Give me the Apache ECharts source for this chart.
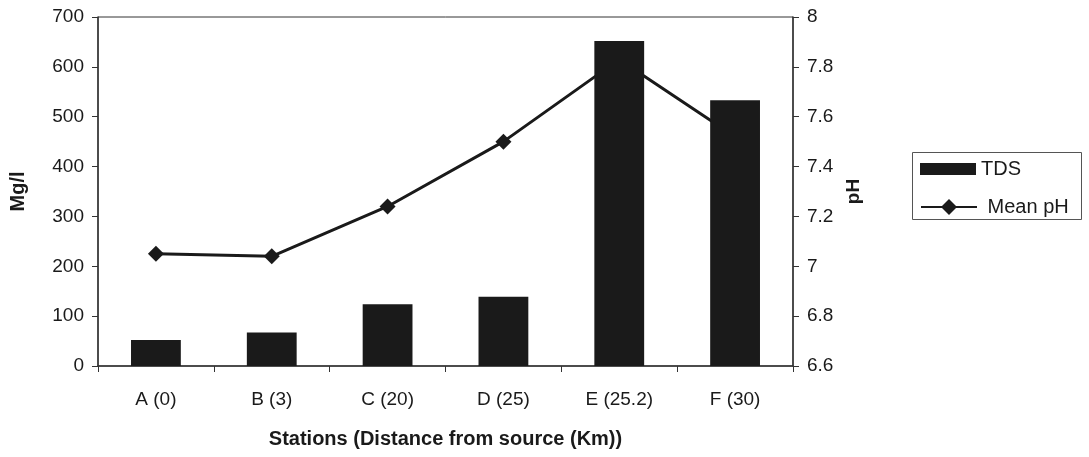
<!DOCTYPE html>
<html>
<head>
<meta charset="utf-8">
<script src="https://cdn.jsdelivr.net/npm/echarts@6/dist/echarts.min.js"></script>
<style>html,body{margin:0;padding:0;background:#fff;}#c{width:1089px;height:457px;}</style>
</head>
<body>
<div id="c"></div>
<script>
const categories = ['A (0)', 'B (3)', 'C (20)', 'D (25)', 'E (25.2)', 'F (30)'];
const tds = [52, 67, 124, 139, 652, 533];
const meanPH = [7.05, 7.04, 7.24, 7.50, 7.83, 7.52];
const leftTicks = { min: 0, max: 700, interval: 100 };
const rightTicks = { min: 6.6, max: 8.0, interval: 0.2 };

const FONT = '"Liberation Sans", Arial, sans-serif';
const INK = '#1a1a1a';

const legendText = { fontSize: 20, color: INK, fontFamily: FONT };

const chart = echarts.init(document.getElementById('c'), null, { renderer: 'canvas' });
chart.setOption({
  backgroundColor: '#ffffff',
  animation: false,
  textStyle: { fontFamily: FONT, color: INK },
  grid: { left: 97, right: 296, top: 17, bottom: 91, show: true, borderColor: '#333', borderWidth: 1, backgroundColor: 'transparent' },
  graphic: [{
    type: 'rect', left: 912, top: 152,
    shape: { width: 169, height: 67 },
    style: { fill: 'transparent', stroke: '#555', lineWidth: 1 },
    silent: true
  }],
  legend: [
    {
      orient: 'vertical', left: 920, top: 159, padding: 0,
      itemWidth: 56, itemHeight: 12,
      textStyle: legendText,
      data: [{ name: 'TDS', icon: 'rect' }]
    },
    {
      orient: 'vertical', left: 920, top: 197, padding: 0,
      itemWidth: 56, itemHeight: 20,
      textStyle: legendText,
      formatter: name => ' ' + name,
      data: [{ name: 'Mean pH' }]
    }
  ],
  xAxis: {
    type: 'category', data: categories, boundaryGap: true,
    axisLine: { lineStyle: { color: '#333', width: 1.5 } },
    axisTick: { show: true, length: 6, lineStyle: { color: '#333' } },
    axisLabel: { fontSize: 19, color: INK, margin: 24, fontFamily: FONT },
    name: 'Stations (Distance from source (Km))', nameLocation: 'middle', nameGap: 63,
    nameTextStyle: { fontSize: 20, fontWeight: 'bold', color: INK, fontFamily: FONT }
  },
  yAxis: [
    {
      type: 'value', min: leftTicks.min, max: leftTicks.max, interval: leftTicks.interval,
      axisLine: { show: true, lineStyle: { color: '#333', width: 1.5 } },
      axisTick: { show: true, length: 6, lineStyle: { color: '#333' } },
      splitLine: { show: false },
      axisLabel: { fontSize: 19, color: INK, margin: 14, fontFamily: FONT },
      name: 'Mg/l', nameLocation: 'middle', nameGap: 70, nameRotate: 90,
      nameTextStyle: { fontSize: 20, fontWeight: 'bold', color: INK, fontFamily: FONT }
    },
    {
      type: 'value', min: rightTicks.min, max: rightTicks.max, interval: rightTicks.interval,
      position: 'right',
      axisLine: { show: true, lineStyle: { color: '#333', width: 1.5 } },
      axisTick: { show: true, length: 6, inside: false, lineStyle: { color: '#333' } },
      splitLine: { show: false },
      axisLabel: { fontSize: 19, color: INK, margin: 14, fontFamily: FONT,
        formatter: v => String(parseFloat(v.toFixed(1))) },
      name: 'pH', nameLocation: 'middle', nameGap: 50, nameRotate: 90,
      nameTextStyle: { fontSize: 19, fontWeight: 'bold', color: INK, fontFamily: FONT }
    }
  ],
  series: [
    {
      name: 'Mean pH', type: 'line', yAxisIndex: 1, data: meanPH, z: 2,
      symbol: 'diamond', symbolSize: 16,
      lineStyle: { color: INK, width: 3 },
      itemStyle: { color: INK }
    },
    {
      name: 'TDS', type: 'bar', yAxisIndex: 0, data: tds, z: 3,
      barWidth: '43%',
      itemStyle: { color: INK }
    }
  ]
});
</script>
</body>
</html>
